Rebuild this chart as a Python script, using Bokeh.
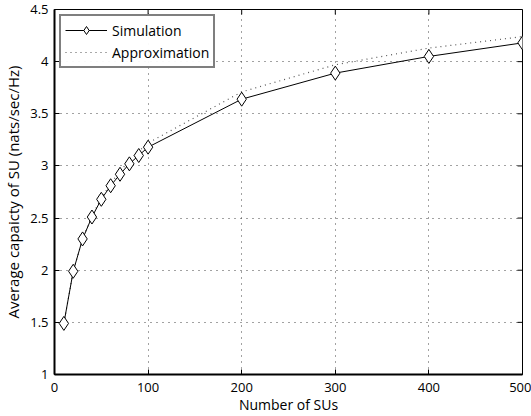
import math
from bokeh.plotting import figure
from bokeh.models import Range1d, FixedTicker, Legend, LegendItem
from bokeh.embed import file_html
from bokeh.resources import INLINE

num_sus = [10, 20, 30, 40, 50, 60, 70, 80, 90, 100, 200, 300, 400, 500]
simulation = [1.49, 1.99, 2.30, 2.51, 2.68, 2.81, 2.92, 3.02, 3.10, 3.18, 3.64, 3.89, 4.05, 4.18]
approximation = [1.49, 1.99, 2.30, 2.52, 2.69, 2.83, 2.95, 3.05, 3.14, 3.22, 3.71, 3.97, 4.13, 4.24]
x_ticks = [0, 100, 200, 300, 400, 500]
y_ticks = [1, 1.5, 2, 2.5, 3, 3.5, 4, 4.5]
x_min, x_max = 0, 500
y_min, y_max = 1, 4.5

FONT = "Open Sans"

p = figure(width=531, height=416, output_backend="svg", toolbar_location=None,
           x_range=Range1d(x_min, x_max), y_range=Range1d(y_min, y_max),
           min_border_left=54, min_border_right=9, min_border_top=9, min_border_bottom=40)
p.outline_line_color = "black"
p.outline_line_width = 1
p.background_fill_color = "white"

for ax in (p.xaxis[0], p.yaxis[0]):
    ax.major_tick_in = 5
    ax.major_tick_out = 0
    ax.minor_tick_in = 0
    ax.minor_tick_out = 0
    ax.axis_line_width = 2
    ax.axis_line_color = "black"
    ax.major_tick_line_color = "black"
    ax.major_label_text_font = FONT
    ax.major_label_text_font_size = "13px"
    ax.major_label_text_color = "black"
    ax.axis_label_text_font = FONT
    ax.axis_label_text_font_style = "normal"
    ax.axis_label_text_color = "black"

p.xaxis[0].ticker = FixedTicker(ticks=x_ticks)
p.yaxis[0].ticker = FixedTicker(ticks=y_ticks)
p.xaxis[0].axis_label = "Number of SUs"
p.yaxis[0].axis_label = "Average capaicty of SU (nats/sec/Hz)"
p.xaxis[0].axis_label_text_font_size = "14px"
p.yaxis[0].axis_label_text_font_size = "15px"
p.xaxis[0].major_label_standoff = 8
p.yaxis[0].major_label_standoff = 6
p.xaxis[0].axis_label_standoff = 0
p.yaxis[0].axis_label_standoff = 4

p.xgrid.ticker = FixedTicker(ticks=x_ticks)
p.ygrid.ticker = FixedTicker(ticks=y_ticks)
for g in (p.xgrid[0], p.ygrid[0]):
    g.grid_line_color = "#444444"
    g.grid_line_dash = "1 5"
    g.grid_line_width = 1

# inward ticks on top and right edges (MATLAB box style)
p.ray(x=x_ticks, y=[y_max] * len(x_ticks), length=5, length_units="screen",
      angle=-math.pi / 2, line_color="black", line_width=1)
p.ray(x=[x_max] * len(y_ticks), y=y_ticks, length=5, length_units="screen",
      angle=math.pi, line_color="black", line_width=1)

approx_line = p.line(num_sus, approximation, line_color="#555555", line_dash="1 4", line_width=1.2)
sim_line = p.line(num_sus, simulation, line_color="black", line_width=1)
sim_marker = p.scatter(num_sus, simulation, marker="diamond", size=14,
                       fill_color="white", line_color="black", line_width=1)

legend = Legend(items=[LegendItem(label="Simulation", renderers=[sim_line, sim_marker]),
                       LegendItem(label="Approximation", renderers=[approx_line])],
                location="top_left")
legend.border_line_color = "black"
legend.border_line_width = 2
legend.label_text_font = FONT
legend.label_text_font_size = "14px"
legend.label_text_color = "black"
legend.glyph_width = 42
legend.glyph_height = 20
legend.label_height = 20
legend.spacing = 2
legend.padding = 4
legend.margin = 5
legend.label_standoff = 5
p.add_layout(legend)

open("out.html", "w").write(file_html(p, INLINE))
